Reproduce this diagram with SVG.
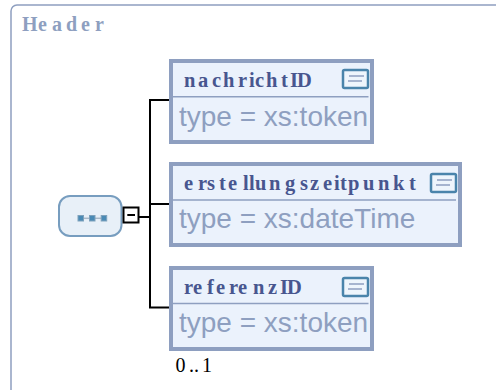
<svg xmlns="http://www.w3.org/2000/svg" width="496" height="390" viewBox="0 0 496 390">
<style>
.box{fill:#ebf2fc;stroke:#8e9fc0;stroke-width:4}
.sep{stroke:#8e9fc0;stroke-width:1.5;fill:none}
.name{font:bold 20.500px "Liberation Serif",serif;fill:#48568f}
.type{font:28px "Liberation Sans",sans-serif;fill:#8e9fc0}
.ico{fill:#eef5fc;stroke:#4a84ab;stroke-width:2.500}
.ico2{stroke:#8e9fc0;stroke-width:1.500}
.con{fill:none;stroke:#000;stroke-width:2}
.dot{fill:#4a8ab5;stroke:#7fa2bc}
</style>
<rect width="496" height="390" fill="#fff"/>
<path id="frame" d="M11 392V11a6 6 0 0 1 6-6H498" fill="none" stroke="#8e9fc0" stroke-width="1.500"/>
<text x="22 38 52 66 81 95" y="31" style="font:bold 20px 'Liberation Serif',serif;fill:#8e9fc0">Header</text>
<g id="connectors">
<path class="con" d="M150 100V307.500M149 100H171M150 204H171M149 307.500H171M139 217H150"/>
</g>
<g id="sequence">
<rect x="59" y="196" width="62.500" height="40" rx="11" fill="#e8f0f8" stroke="#779dbf" stroke-width="2"/>
<path d="M81 218.300H104" stroke="#a9b8c8" stroke-width="1.500"/>
<rect class="dot" x="78" y="215.500" width="5.500" height="5.500"/>
<rect class="dot" x="89.500" y="215.500" width="5.500" height="5.500"/>
<rect class="dot" x="101.200" y="215.500" width="5.500" height="5.500"/>
<rect x="123.500" y="207.500" width="15" height="15" fill="#fff" stroke="#000" stroke-width="2"/>
<path d="M127.300 215H135" stroke="#000" stroke-width="2"/>
</g>
<g id="nachrichtID">
<rect class="box" x="171" y="61" width="201" height="81"/>
<path class="sep" d="M172 96.700H368.500"/>
<text class="name" x="184 198 212 223 238 249 255 266 281 290 297" y="87">nachrichtID</text>
<rect class="ico" x="343" y="70" width="25" height="18" rx="1.500"/>
<path class="ico2" d="M349 76H364M348 81H362"/>
<text class="type" x="179" y="126">type = xs:token</text>
</g>
<g id="erstellungszeitpunkt">
<rect class="box" x="171" y="164" width="289" height="81"/>
<path class="sep" d="M172 200H456"/>
<text class="name" x="184 198 207 219 228 243 249 255 269 285 300 310 323 334 340 348 363 378 393 409" y="190">erstellungszeitpunkt</text>
<rect class="ico" x="431" y="174" width="25" height="18" rx="1.500"/>
<path class="ico2" d="M437 180H452M436 185H450"/>
<text class="type" x="179" y="228">type = xs:dateTime</text>
</g>
<g id="referenzID">
<rect class="box" x="171" y="268" width="201" height="81"/>
<path class="sep" d="M172 303.500H368.500"/>
<text class="name" x="184 193 207 216 229 238 253 268 280 287" y="294">referenzID</text>
<rect class="ico" x="343" y="278" width="25" height="18" rx="1.500"/>
<path class="ico2" d="M349 284H364M348 289H362"/>
<text class="type" x="179" y="332">type = xs:token</text>
</g>
<text x="175.500 189 194 202" y="371.500" style="font:20px 'Liberation Serif',serif;fill:#000">0..1</text>
</svg>
